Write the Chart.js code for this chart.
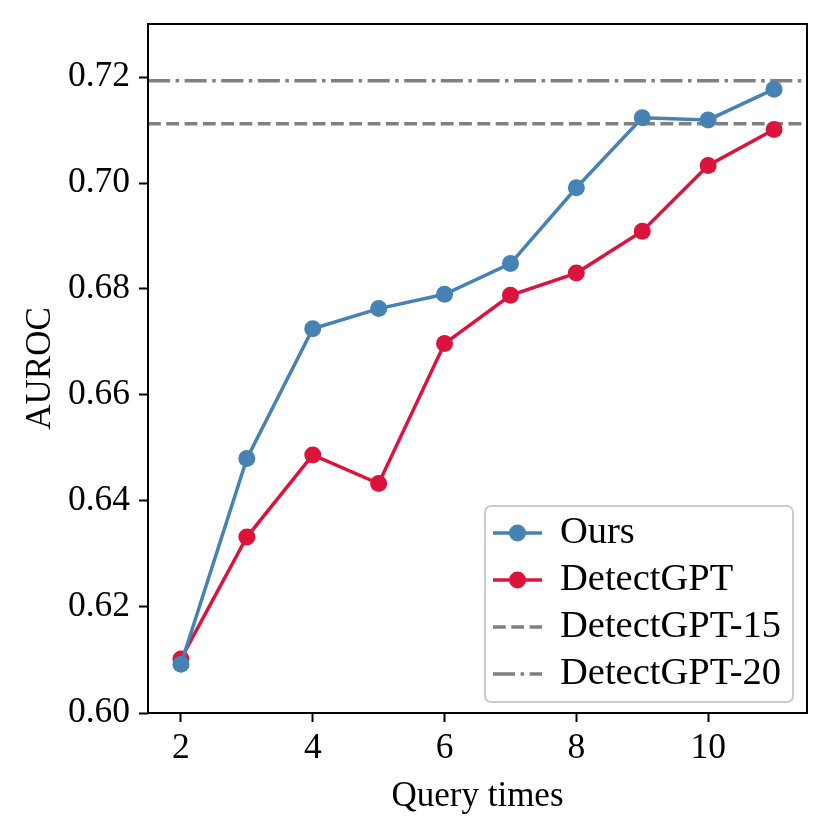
<!DOCTYPE html>
<html>
<head>
<meta charset="utf-8">
<script src="https://cdn.jsdelivr.net/npm/chart.js@4.4.1/dist/chart.umd.min.js"></script>
<style>
  html, body { margin: 0; padding: 0; background: #fff; }
</style>
</head>
<body>
<canvas id="chart" width="830" height="830"></canvas>
<script>
// values
const queryTimes = [2, 3, 4, 5, 6, 7, 8, 9, 10, 11];
const oursAuroc = [0.6092, 0.6480, 0.6725, 0.6763, 0.6790, 0.6848, 0.6991, 0.7123, 0.7119, 0.7177];
const detectGptAuroc = [0.6102, 0.6332, 0.6487, 0.6433, 0.6697, 0.6788, 0.6830, 0.6909, 0.7033, 0.7101];
const detectGpt15 = 0.7112;
const detectGpt20 = 0.7193;
const xTicks = [2, 4, 6, 8, 10];
const yTicks = [0.60, 0.62, 0.64, 0.66, 0.68, 0.70, 0.72];
const xRange = [1.5, 11.5];
const yRange = [0.60, 0.73];

const SERIF = "'Liberation Serif', 'Times New Roman', Times, serif";
const GRAY = "#808080";

const toPoints = (ys) => queryTimes.map((x, i) => ({ x, y: ys[i] }));
const hLine = (y) => [{ x: xRange[0], y }, { x: xRange[1], y }];

// box around the plot, like matplotlib spines
const frame = {
  id: "frame",
  afterDatasetsDraw(chart) {
    const { ctx, chartArea: a } = chart;
    ctx.save();
    ctx.strokeStyle = "#000";
    ctx.lineWidth = 2;
    ctx.strokeRect(a.left, a.top, a.right - a.left, a.bottom - a.top);
    ctx.restore();
  },
};

// legend drawn inside the plot, lower right
const insetLegend = {
  id: "insetLegend",
  afterDraw(chart) {
    const { ctx, chartArea: a } = chart;
    const w = 308, h = 196;
    const x0 = a.right - 14 - w, y0 = a.bottom - 11 - h;
    ctx.save();
    ctx.beginPath();
    ctx.roundRect(x0, y0, w, h, 6);
    ctx.fillStyle = "rgba(255,255,255,0.8)";
    ctx.fill();
    ctx.strokeStyle = "#cccccc";
    ctx.lineWidth = 2;
    ctx.stroke();

    chart.data.datasets.forEach((ds, i) => {
      const cy = y0 + 27 + i * 47;
      const hx0 = x0 + 8, hx1 = x0 + 57;
      ctx.beginPath();
      ctx.setLineDash(ds.borderDash || []);
      ctx.strokeStyle = ds.borderColor;
      ctx.lineWidth = ds.borderWidth;
      ctx.moveTo(hx0, cy);
      ctx.lineTo(hx1, cy);
      ctx.stroke();
      ctx.setLineDash([]);
      if (ds.pointRadius > 0) {
        ctx.beginPath();
        ctx.arc((hx0 + hx1) / 2, cy, ds.pointRadius, 0, Math.PI * 2);
        ctx.fillStyle = ds.pointBackgroundColor;
        ctx.fill();
      }
      ctx.fillStyle = "#000";
      ctx.font = "38.5px " + SERIF;
      ctx.textBaseline = "middle";
      ctx.textAlign = "left";
      ctx.fillText(ds.label, x0 + 75, cy);
    });
    ctx.restore();
  },
};

new Chart(document.getElementById("chart"), {
  type: "line",
  data: {
    datasets: [
      {
        label: "Ours",
        data: toPoints(oursAuroc),
        borderColor: "#4682b4",
        pointBackgroundColor: "#4682b4",
        borderWidth: 3.5,
        pointRadius: 8.5,
        pointBorderWidth: 0,
      },
      {
        label: "DetectGPT",
        data: toPoints(detectGptAuroc),
        borderColor: "#dc143c",
        pointBackgroundColor: "#dc143c",
        borderWidth: 3.5,
        pointRadius: 8.5,
        pointBorderWidth: 0,
      },
      {
        label: "DetectGPT-15",
        data: hLine(detectGpt15),
        borderColor: GRAY,
        borderWidth: 3.5,
        borderDash: [12.8, 5.5],
        pointRadius: 0,
      },
      {
        label: "DetectGPT-20",
        data: hLine(detectGpt20),
        borderColor: GRAY,
        borderWidth: 3.5,
        borderDash: [22.1, 5.5, 3.5, 5.5],
        pointRadius: 0,
      },
    ],
  },
  options: {
    responsive: false,
    devicePixelRatio: 1,
    animation: false,
    layout: { padding: { top: 24, right: 23, left: 0, bottom: 0 } },
    plugins: {
      legend: { display: false },
      tooltip: { enabled: false },
    },
    scales: {
      x: {
        type: "linear",
        min: xRange[0],
        max: xRange[1],
        afterFit: (s) => { s.height = 117; s.paddingLeft = 0; s.paddingRight = 0; },
        afterBuildTicks: (s) => { s.ticks = xTicks.map((v) => ({ value: v })); },
        border: { display: false },
        grid: { drawOnChartArea: false, tickLength: 9, tickWidth: 2, tickColor: "#000" },
        ticks: {
          padding: 5,
          color: "#000",
          font: { family: SERIF, size: 35.5, lineHeight: 1.2 },
          maxRotation: 0,
          callback: (v) => String(v),
        },
        title: {
          display: true,
          text: "Query times",
          color: "#000",
          font: { family: SERIF, size: 35, lineHeight: 1 },
          padding: { top: 0, bottom: 16 },
        },
      },
      y: {
        min: yRange[0],
        max: yRange[1],
        afterFit: (s) => { s.width = 148; s.paddingTop = 0; s.paddingBottom = 0; },
        afterBuildTicks: (s) => { s.ticks = yTicks.map((v) => ({ value: v })); },
        border: { display: false },
        grid: { drawOnChartArea: false, tickLength: 9, tickWidth: 2, tickColor: "#000" },
        ticks: {
          padding: 9,
          color: "#000",
          font: { family: SERIF, size: 35.5, lineHeight: 1.2 },
          callback: (v) => v.toFixed(2),
        },
        title: {
          display: true,
          text: "AUROC",
          color: "#000",
          font: { family: SERIF, size: 35, lineHeight: 1 },
          padding: { top: 23, bottom: 0 },
        },
      },
    },
  },
  plugins: [frame, insetLegend],
});
</script>
</body>
</html>
